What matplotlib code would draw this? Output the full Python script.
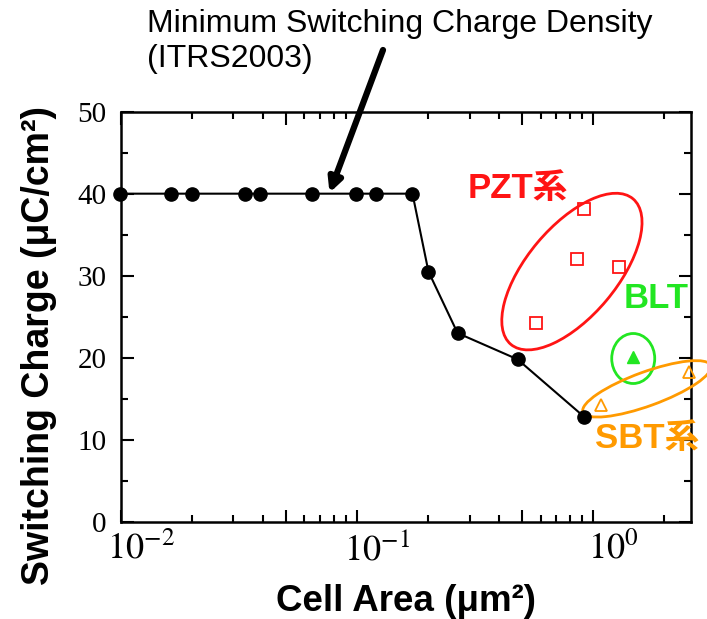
import numpy as np
import matplotlib.pyplot as plt
import matplotlib.transforms as transforms
from matplotlib.patches import Ellipse
from matplotlib.ticker import FixedLocator, FixedFormatter, MultipleLocator

plt.rcParams['mathtext.fontset'] = 'stix'

# ITRS minimum switching charge vs. cell area
itrs_area = [0.0099, 0.0163, 0.020, 0.0335, 0.039, 0.0646, 0.0994, 0.12, 0.172,
             0.201, 0.267, 0.479, 0.916]
itrs_charge = [40, 40, 40, 40, 40, 40, 40, 40, 40, 30.5, 23.0, 19.8, 12.8]

# PZT films
pzt_area = [0.916, 0.859, 1.29, 0.573]
pzt_charge = [38.1, 32.0, 31.0, 24.2]

# BLT film
blt_area = [1.47]
blt_charge = [20.1]

# SBT films
sbt_area = [1.08, 2.55]
sbt_charge = [14.2, 18.2]

RED = '#ff1414'
GREEN = '#22e622'
ORANGE = '#ff9a00'

fig = plt.figure(figsize=(7.07, 6.19), dpi=100)
ax = fig.add_axes([0.1707, 0.1572, 0.9774 - 0.1707, 0.8196 - 0.1572])

ax.plot(itrs_area, itrs_charge, '-o', color='black', lw=1.5, ms=9.5, clip_on=False, zorder=5)
ax.plot(pzt_area, pzt_charge, 's', mfc='none', mec=RED, ms=8.5, mew=1.3, zorder=4)
ax.plot(blt_area, blt_charge, '^', color=GREEN, ms=9, zorder=4)
ax.plot(sbt_area, sbt_charge, '^', mfc='none', mec=ORANGE, ms=8.5, mew=1.3, zorder=4, clip_on=False)

ax.set_xscale('log')
ax.set_xlim(0.01, 2.6)
ax.set_ylim(0, 50)

# long ticks at each decade and at 5, short ticks elsewhere
ax.xaxis.set_major_locator(FixedLocator([0.01, 0.05, 0.1, 0.5, 1]))
ax.xaxis.set_major_formatter(FixedFormatter([r'$10^{-2}$', '', r'$10^{-1}$', '', r'$10^{0}$']))
minor = [m * d for d in (0.01, 0.1, 1) for m in (2, 3, 4, 6, 7, 8, 9)]
ax.xaxis.set_minor_locator(FixedLocator(minor))
ax.yaxis.set_major_locator(MultipleLocator(10))
ax.yaxis.set_minor_locator(MultipleLocator(5))

ax.tick_params(which='both', direction='in', top=True, right=True, width=1.5)
ax.tick_params(which='major', length=9)
ax.tick_params(which='minor', length=5)
ax.tick_params(axis='x', which='major', labelsize=26, pad=7)
ax.tick_params(axis='y', which='major', labelsize=21, pad=10)
for lab in ax.get_yticklabels():
    lab.set_family('Liberation Serif')
# the "10" sits under the tick, the exponent hangs to the right
shift = transforms.ScaledTranslation(20 / 100, 0, fig.dpi_scale_trans)
for lab in ax.get_xticklabels():
    lab.set_transform(lab.get_transform() + shift)
for s in ax.spines.values():
    s.set_linewidth(1.8)

ax.set_xlabel('Cell Area (μm²)', fontsize=26.5, fontweight='bold',
              family='Liberation Sans', labelpad=13)
ax.set_ylabel('Switching Charge (μC/cm²)', fontsize=27, fontweight='bold',
              family='Liberation Sans')
ax.yaxis.set_label_coords(-0.112, 0.43)


def ring(x, y, w, h, angle, color):
    # ellipse sized in inches, centred on a data point
    trans = fig.dpi_scale_trans + transforms.ScaledTranslation(x, y, ax.transData)
    e = Ellipse((0, 0), w, h, angle=angle, fill=False, ec=color, lw=2,
                transform=trans, clip_on=False, zorder=3)
    ax.add_patch(e)


ring(0.814, 30.5, 1.90, 0.90, 50, RED)
ring(1.48, 19.9, 0.43, 0.50, 0, GREEN)
ring(1.69, 16.2, 1.36, 0.34, 20, ORANGE)

mixed = ['Liberation Sans', 'Noto Sans CJK JP']
ax.text(0.48, 40.6, 'PZT系', color=RED, fontsize=25, fontweight='bold',
        family=mixed, ha='center', va='center')
ax.text(1.85, 27.2, 'BLT', color=GREEN, fontsize=25, fontweight='bold',
        family='Liberation Sans', ha='center', va='center')
ax.text(1.70, 10.2, 'SBT系', color=ORANGE, fontsize=25, fontweight='bold',
        family=mixed, ha='center', va='center')

fig.text(147 / 707, 1 - 31.7 / 619, 'Minimum Switching Charge Density',
         fontsize=23, family='Liberation Sans', ha='left', va='baseline')
fig.text(147 / 707, 1 - 67 / 619, '(ITRS2003)',
         fontsize=23, family='Liberation Sans', ha='left', va='baseline')
ax.annotate('', xy=(0.0766, 40.1), xytext=(383 / 707, 1 - 50 / 619),
            textcoords='figure fraction',
            arrowprops=dict(arrowstyle='-|>', lw=4.5, color='black',
                            mutation_scale=20, shrinkA=0, shrinkB=0), zorder=6)

fig.savefig('out.png', dpi=100)
